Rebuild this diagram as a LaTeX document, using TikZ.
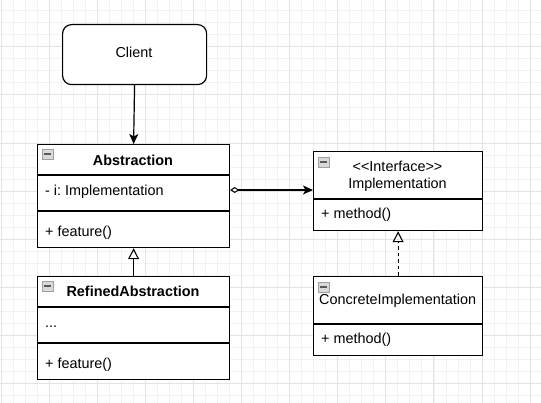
\documentclass[tikz,border=0pt]{standalone}
\usepackage{fontspec}
\newfontfamily\lsans{Liberation Sans}
\usetikzlibrary{arrows.meta}
\begin{document}
\begin{tikzpicture}[x=1pt,y=-1pt,
  umlbox/.style={draw=black,line width=1.2pt,fill=white,inner sep=0pt,anchor=north west},
  txt/.style={inner sep=0pt,font=\lsans\frenchspacing\fontsize{14.4}{17}\selectfont},
  bold/.style={font=\lsans\frenchspacing\fontsize{14.4}{17}\selectfont\bfseries},
  conn/.style={line width=1.2pt,draw=black},
  icon/.style={draw=gray!75,fill=gray!30,line width=0.8pt},
  minus/.style={draw=black!65,line width=1.3pt}]
\useasboundingbox (0,0) rectangle (541,403);
\fill[white] (0,0) rectangle (541,403);
% grid
\foreach \i in {-4,...,44}{
  \draw[line width=0.6pt,draw=black!5] ({49+12.025*\i},0) -- ({49+12.025*\i},403);}
\foreach \j in {-3,...,30}{
  \draw[line width=0.6pt,draw=black!5] (0,{46.7+12.025*\j}) -- (541,{46.7+12.025*\j});}
\foreach \i in {-1,...,10}{
  \draw[line width=0.7pt,draw=black!11] ({49+48.1*\i},0) -- ({49+48.1*\i},403);}
\foreach \j in {-1,...,7}{
  \draw[line width=0.7pt,draw=black!11] (0,{46.7+48.1*\j}) -- (541,{46.7+48.1*\j});}

% Client
\node[umlbox,rounded corners=9pt,minimum width=144,minimum height=60] (client) at (62,24) {};
\node[txt,anchor=base] (clienttxt) at (134,58) {Client};

% Abstraction
\node[umlbox,minimum width=192,minimum height=103] (abs) at (37,144) {};
\draw[conn] (abs.west |- 0,175) -- (abs.east |- 0,175);
\draw[conn] (abs.west |- 0,211) -- (abs.east |- 0,211);
\node[txt,bold,anchor=base] (abstitle) at (133,165.5) {Abstraction};
\node[txt,anchor=base west] (absattr) at (45,196) {- i: Implementation};
\node[txt,anchor=base west] (absop) at (45,237) {+ feature()};
\draw[icon] (42,149) rectangle (53,159);
\draw[minus] (44,154) -- (51,154);

% RefinedAbstraction
\node[umlbox,minimum width=192,minimum height=103] (ref) at (37,276) {};
\draw[conn] (ref.west |- 0,307) -- (ref.east |- 0,307);
\draw[conn] (ref.west |- 0,343) -- (ref.east |- 0,343);
\node[txt,bold,anchor=base] (reftitle) at (133,297) {RefinedAbstraction};
\node[txt,anchor=base west] (refattr) at (45,328) {...};
\node[txt,anchor=base west] (refop) at (45,369) {+ feature()};
\draw[icon] (42,281) rectangle (53,291);
\draw[minus] (44,286) -- (51,286);

% Implementation
\node[umlbox,minimum width=169,minimum height=79] (impl) at (313,151) {};
\draw[conn] (impl.west |- 0,199) -- (impl.east |- 0,199);
\node[txt,anchor=base] (implst) at (397.5,172) {<<Interface>>};
\node[txt,anchor=base] (impltitle) at (397.5,189) {Implementation};
\node[txt,anchor=base west] (implop) at (321,219) {+ method()};
\draw[icon] (318,157) rectangle (329,167);
\draw[minus] (320,162) -- (327,162);

% ConcreteImplementation
\node[umlbox,minimum width=169,minimum height=79] (conc) at (313,276) {};
\draw[conn] (conc.west |- 0,324) -- (conc.east |- 0,324);
\node[txt,anchor=base west] (conctitle) at (319,305) {ConcreteImplementation};
\node[txt,anchor=base west] (concop) at (321,344) {+ method()};
\draw[icon] (318,282) rectangle (329,292);
\draw[minus] (320,287) -- (327,287);

% connectors
\coordinate (aggy) at (0,190);
\draw[conn,-{Stealth[length=10pt,width=9pt,inset=2.5pt]}] (client.south) -- (abs.north);
\draw[conn,{Diamond[open,length=9pt,width=6pt,line width=1pt]}-{Stealth[length=10pt,width=9pt,inset=2.5pt]}]
  (abs.east |- aggy) -- (impl.west |- aggy);
\draw[conn,-{Triangle[open,length=11pt,width=11pt,line width=1.1pt]}] (ref.north) -- (abs.south);
\draw[conn,dash pattern=on 3.5pt off 3pt,-{Triangle[open,length=11pt,width=11pt,line width=1.1pt]}] (conc.north) -- (impl.south);
\end{tikzpicture}
\end{document}
